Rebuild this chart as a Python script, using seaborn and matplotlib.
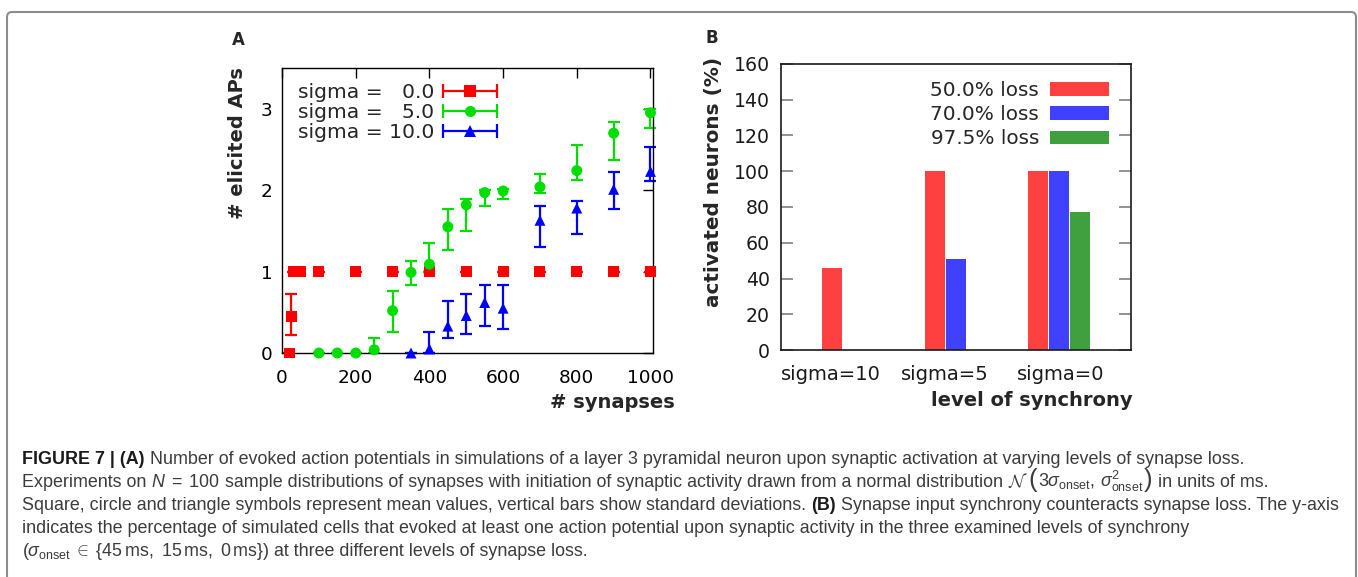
import matplotlib
matplotlib.use('Agg')
import matplotlib.pyplot as plt
import seaborn as sns
import pandas as pd
from matplotlib.lines import Line2D
from matplotlib.patches import Patch, FancyBboxPatch
from matplotlib.legend_handler import HandlerLine2D, HandlerTuple
from matplotlib.transforms import IdentityTransform

# --- Panel A: elicited APs vs number of synapses ---
sigma_labels = ['sigma = \u20070.0', 'sigma = \u20075.0', 'sigma = 10.0']
sigma_colors = ['#ff0000', '#00dd00', '#0000ff']
sigma_markers = ['s', 'o', '^']

sig0_x = [20, 25, 30, 40, 50, 100, 200, 300, 400, 500, 600, 700, 800, 900, 1000]
sig0_mean = [0, 0.45, 1, 1, 1, 1, 1, 1, 1, 1, 1, 1, 1, 1, 1]
sig0_lo = [0, 0.22, 1, 1, 1, 1, 1, 1, 1, 1, 1, 1, 1, 1, 1]
sig0_hi = [0, 0.72, 1, 1, 1, 1, 1, 1, 1, 1, 1, 1, 1, 1, 1]

sig5_x = [100, 150, 200, 250, 300, 350, 400, 450, 500, 550, 600, 700, 800, 900, 1000]
sig5_mean = [0, 0, 0, 0.04, 0.52, 0.99, 1.09, 1.55, 1.82, 1.97, 1.99, 2.04, 2.24, 2.70, 2.95]
sig5_lo = [0, 0, 0, 0, 0.26, 0.83, 0.99, 1.27, 1.50, 1.80, 1.89, 1.97, 2.13, 2.37, 2.76]
sig5_hi = [0, 0, 0, 0.19, 0.76, 1.13, 1.35, 1.77, 1.89, 2.00, 2.02, 2.20, 2.55, 2.84, 3.00]

sig10_x = [350, 400, 450, 500, 550, 600, 700, 800, 900, 1000]
sig10_mean = [0, 0.05, 0.33, 0.46, 0.62, 0.55, 1.63, 1.78, 2.01, 2.23]
sig10_lo = [0, 0, 0.18, 0.23, 0.33, 0.29, 1.30, 1.46, 1.77, 2.11]
sig10_hi = [0, 0.26, 0.64, 0.73, 0.84, 0.83, 1.81, 1.87, 2.22, 2.53]

# --- Panel B: activated neurons per level of synchrony ---
levels = ['sigma=10', 'sigma=5', 'sigma=0']
losses = ['50.0% loss', '70.0% loss', '97.5% loss']
loss_colors = ['#ff4040', '#4040ff', '#40a040']
loss50 = [46, 100, 100]
loss70 = [0, 51, 100]
loss975 = [0, 0, 77]

sns.set_theme(style='white')
plt.rcParams['font.family'] = ['DejaVu Sans']
plt.rcParams['mathtext.fontset'] = 'custom'
plt.rcParams['mathtext.rm'] = 'Liberation Sans'
plt.rcParams['mathtext.it'] = 'Liberation Sans:italic'
plt.rcParams['mathtext.bf'] = 'Liberation Sans:bold'
plt.rcParams['mathtext.sf'] = 'Liberation Sans'

fig = plt.figure(figsize=(13.58, 5.77), dpi=100)
fig.patch.set_facecolor('white')

# ---------------- Panel A ----------------
axA = fig.add_axes([0.2077, 0.3882, 0.2732, 0.4939])
parts = []
for lab, xs, m, lo, hi in zip(sigma_labels,
                              [sig0_x, sig5_x, sig10_x],
                              [sig0_mean, sig5_mean, sig10_mean],
                              [sig0_lo, sig5_lo, sig10_lo],
                              [sig0_hi, sig5_hi, sig10_hi]):
    parts.append(pd.DataFrame({'synapses': xs, 'mean': m, 'lo': lo, 'hi': hi, 'sigma': lab}))
dfA = pd.concat(parts, ignore_index=True)
pal_a = dict(zip(sigma_labels, sigma_colors))
mk_a = dict(zip(sigma_labels, sigma_markers))

for lab, grp in dfA.groupby('sigma', sort=False):
    eb = axA.errorbar(grp['synapses'], grp['mean'],
                      yerr=[grp['mean'] - grp['lo'], grp['hi'] - grp['mean']],
                      fmt='none', ecolor=pal_a[lab], elinewidth=1.6,
                      capsize=4.4, capthick=1.6, zorder=2)
    for art in eb.get_children():
        art.set_clip_on(False)

sns.scatterplot(data=dfA, x='synapses', y='mean', hue='sigma', style='sigma',
                palette=pal_a, markers=mk_a, s=62, linewidth=0, legend=False,
                ax=axA, zorder=3, clip_on=False)

axA.set_xlim(0, 1007)
axA.set_ylim(0, 3.5)
axA.set_xticks(range(0, 1001, 200))
axA.set_yticks([0, 1, 2, 3])
axA.tick_params(direction='in', length=7, width=1, top=True, right=True,
                labelsize=13.3, pad=7, colors='black')
axA.tick_params(axis='x', pad=11.5)
for sp in axA.spines.values():
    sp.set_color('black')
    sp.set_linewidth(1)
axA.set_xlabel('# synapses', fontsize=14, fontweight='bold')
axA.xaxis.set_label_coords(1.059, -0.172)
axA.xaxis.label.set_ha('right')
axA.xaxis.label.set_va('center')
axA.set_ylabel('# elicited APs', fontsize=14, fontweight='bold')
axA.yaxis.set_label_coords(-0.121, 1.003)
axA.yaxis.label.set_ha('right')
axA.yaxis.label.set_va('center')

# gnuplot-style key: horizontal bar with end caps and the symbol in the middle
handles_a = []
hmap = {}
for lab in sigma_labels:
    cap_line = Line2D([], [], color=pal_a[lab], lw=1.6, marker='|',
                      markersize=9.5, markeredgewidth=1.6)
    pt = Line2D([], [], color=pal_a[lab], lw=0, marker=mk_a[lab],
                markersize=8, markeredgewidth=0)
    hmap[cap_line] = HandlerLine2D(numpoints=2, marker_pad=0)
    hmap[pt] = HandlerLine2D(numpoints=1)
    handles_a.append((cap_line, pt))
hmap[tuple] = HandlerTuple(ndivide=1, pad=0)
axA.legend(handles_a, sigma_labels, handler_map=hmap, loc='upper left',
           bbox_to_anchor=(0.043, 0.948), frameon=False, markerfirst=False,
           fontsize=14.6, handlelength=2.66, handletextpad=0.44,
           labelspacing=0.065, borderpad=0, borderaxespad=0)

# ---------------- Panel B ----------------
axB = fig.add_axes([0.5751, 0.3934, 0.2577, 0.4957])
dfB = pd.DataFrame({
    'level': levels * 3,
    'loss': [losses[0]] * 3 + [losses[1]] * 3 + [losses[2]] * 3,
    'percent': loss50 + loss70 + loss975,
})
pal_b = dict(zip(losses, loss_colors))
sns.barplot(data=dfB, x='level', y='percent', hue='loss', order=levels,
            hue_order=losses, palette=pal_b, width=0.615, gap=0.05,
            errorbar=None, linewidth=0, saturation=1, legend=False, ax=axB)
axB.set_xlim(-0.705, 2.705)
axB.set_ylim(0, 160)
axB.set_yticks(range(0, 161, 20))
# gnuplot put the category labels slightly left of the clusters
axB.set_xticks([-0.22, 0.89, 2.02], levels)
axB.tick_params(axis='y', direction='in', length=8.6, width=1.2, left=True,
                right=True, color='#808080', labelsize=13.6, pad=8,
                labelcolor='#1a1a1a')
axB.tick_params(axis='x', length=0, labelsize=14, pad=11, labelcolor='#1a1a1a')
for sp in axB.spines.values():
    sp.set_color('#1a1a1a')
    sp.set_linewidth(1.2)
axB.set_xlabel('level of synchrony', fontsize=14, fontweight='bold')
axB.xaxis.set_label_coords(1.006, -0.175)
axB.xaxis.label.set_ha('right')
axB.xaxis.label.set_va('center')
axB.set_ylabel('activated neurons (%)', fontsize=14.4, fontweight='bold')
axB.yaxis.set_label_coords(-0.194, 1.024)
axB.yaxis.label.set_ha('right')
axB.yaxis.label.set_va('center')

handles_b = [Patch(facecolor=c, edgecolor='none') for c in loss_colors]
axB.legend(handles_b, losses, loc='upper right', bbox_to_anchor=(0.937, 0.941),
           frameon=False, markerfirst=False, fontsize=14.4, handlelength=2.95,
           handleheight=0.66, handletextpad=0.55, labelspacing=0.26,
           borderpad=0, borderaxespad=0)

# panel letters
fig.text(238 / 1358, 1 - 40 / 577, 'A', fontsize=12, fontweight='bold',
         ha='center', va='center')
fig.text(712 / 1358, 1 - 38 / 577, 'B', fontsize=12, fontweight='bold',
         ha='center', va='center')

# --- frame around the figure ---
frame = FancyBboxPatch((7, -30), 1349, 595, boxstyle='round,pad=0,rounding_size=5',
                       transform=IdentityTransform(), fill=False,
                       edgecolor='#8c8c8c', linewidth=1.5)
fig.add_artist(frame)

# --- caption, laid out piece by piece ---
reg = dict(fontsize=12.9, color='#3c3c3c', family='Liberation Sans',
           math_fontfamily='custom')
bold = dict(reg, fontweight='bold', color='#1a1a1a')
cal = dict(reg, math_fontfamily='cm')
paren = dict(reg, fontsize=18.5)

renderer = fig.canvas.get_renderer()
probe1 = fig.text(0, 0, 'a a', **reg)
probe2 = fig.text(0, 0, 'aa', **reg)
space = probe1.get_window_extent(renderer).width - probe2.get_window_extent(renderer).width
probe1.remove()
probe2.remove()

caption = [
    [('FIGURE 7 | (A)', bold, True),
     ('Number of evoked action potentials in simulations of a layer 3 pyramidal '
      'neuron upon synaptic activation at varying levels of synapse loss.', reg, True)],
    [('Experiments on', reg, True),
     (r'$N\;=\;100$', reg, True),
     ('sample distributions of synapses with initiation of synaptic activity drawn '
      'from a normal distribution', reg, True),
     (r'$\mathcal{N}$', cal, False),
     ('(', paren, False),
     (r'$3\sigma_{\mathrm{onset}},\,\sigma^{2}_{\mathrm{onset}}$', reg, False),
     (')', paren, True),
     ('in units of ms.', reg, True)],
    [('Square, circle and triangle symbols represent mean values, vertical bars show '
      'standard deviations.', reg, True),
     ('(B)', bold, True),
     ('Synapse input synchrony counteracts synapse loss. The y-axis', reg, True)],
    [('indicates the percentage of simulated cells that evoked at least one action '
      'potential upon synaptic activity in the three examined levels of synchrony', reg, True)],
    [(r'$(\sigma_{\mathrm{onset}}\;\in\;\{45\,\mathrm{ms},\ 15\,\mathrm{ms},\ 0\,\mathrm{ms}\})$', reg, True),
     ('at three different levels of synapse loss.', reg, True)],
]
baselines = [113, 90, 67, 44, 21]
for y0, line in zip(baselines, caption):
    x = 22
    for txt, style, gap in line:
        t = fig.text(x, y0, txt, transform=IdentityTransform(), ha='left',
                     va='baseline', **style)
        x = t.get_window_extent(renderer).x1 + (space if gap else 0.5)

fig.savefig('out.png', dpi=100, facecolor='white')
